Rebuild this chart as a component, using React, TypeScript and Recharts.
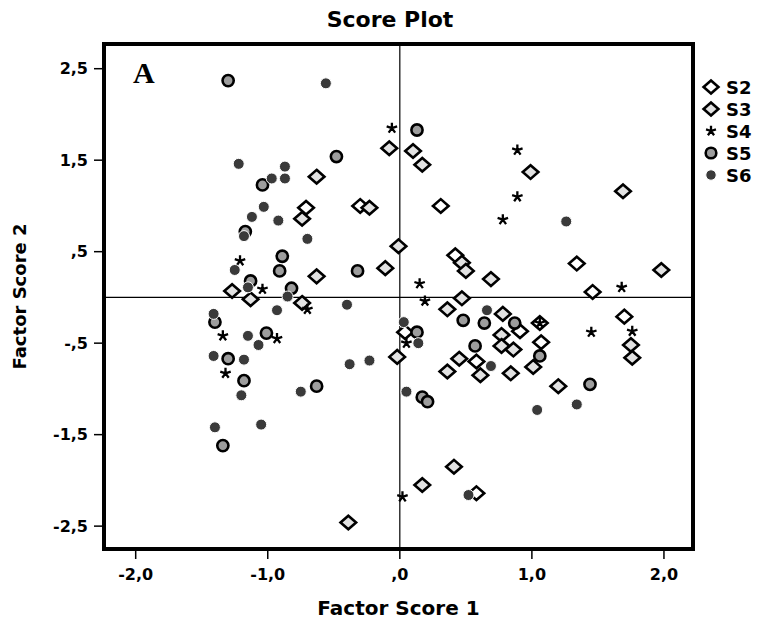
import { ReferenceArea, ReferenceLine, Scatter, ScatterChart, XAxis, YAxis } from "recharts";

const FONT = "'DejaVu Sans', Arial, sans-serif";

const X_DOMAIN = [-2.24, 2.22];
const Y_DOMAIN = [-2.75, 2.77];
const X_TICKS = [-2, -1, 0, 1, 2];
const Y_TICKS = [-2.5, -1.5, -0.5, 0.5, 1.5, 2.5];

const SERIES_NAMES = ["S2", "S3", "S4", "S5", "S6"];

const S2_X = [-0.71, -0.3, 0.31, 0.42, 1.34, 1.46, 0.91, 1.06, 1.07, 1.7, 0.58, 0.04, 0.58];
const S2_Y = [0.98, 1.0, 1.0, 0.46, 0.37, 0.06, -0.37, -0.28, -0.49, -0.21, -0.7, -0.38, -2.14];

const S3_X = [
  -0.08, -0.63, -0.74, -0.23, -0.01, -0.11, -0.63, -1.27, -1.13, -0.74, 0.1, 0.17,
  0.99, 1.69, 0.47, 0.5, 0.69, 1.98, 0.47, 0.36, 0.78, 0.77, 0.77, 0.86, 1.01, 0.45,
  0.36, 0.61, 0.84, -0.02, 1.2, 1.75, 1.76, 0.41, 0.17, -0.39,
];
const S3_Y = [
  1.63, 1.32, 0.86, 0.98, 0.56, 0.32, 0.23, 0.07, -0.02, -0.06, 1.6, 1.45, 1.37, 1.16,
  0.38, 0.29, 0.2, 0.3, -0.01, -0.13, -0.18, -0.41, -0.53, -0.57, -0.76, -0.67, -0.81,
  -0.85, -0.83, -0.65, -0.97, -0.52, -0.66, -1.85, -2.05, -2.46,
];

const S4_X = [-0.06, -1.21, -1.04, 0.89, 0.89, 0.78, 0.15, 1.68, -0.7, -1.34, -0.93, -1.32, 0.19, 0.05, 1.45, 1.76, 1.06, 0.02];
const S4_Y = [1.85, 0.4, 0.09, 1.61, 1.1, 0.85, 0.15, 0.11, -0.13, -0.42, -0.45, -0.83, -0.04, -0.5, -0.38, -0.37, -0.28, -2.18];

const S5_X = [
  -1.3, -0.48, -1.04, -1.17, -0.89, -0.91, -0.32, -1.13, -0.82, 0.13, -1.4, -1.01,
  -1.3, -1.18, -0.63, 0.48, 0.64, 0.13, 0.57, 0.87, 1.06, 0.17, 0.21, 1.44, -1.34,
];
const S5_Y = [
  2.37, 1.54, 1.23, 0.72, 0.45, 0.29, 0.29, 0.18, 0.1, 1.83, -0.27, -0.39, -0.67,
  -0.91, -0.97, -0.25, -0.28, -0.38, -0.53, -0.28, -0.64, -1.09, -1.14, -0.95, -1.62,
];

const S6_X = [
  -0.56, -1.22, -0.97, -0.87, -0.87, -1.03, -1.12, -0.92, -1.18, -0.7, -1.25, -1.15,
  1.26, -0.85, -0.93, -0.4, -1.41, -1.15, -1.07, -1.41, -1.18, -1.2, -0.75, -0.38,
  -0.23, -1.4, -1.05, 0.66, 0.03, 0.14, 0.69, 0.05, 1.04, 1.34, 0.52,
];
const S6_Y = [
  2.34, 1.46, 1.3, 1.43, 1.3, 0.99, 0.88, 0.84, 0.67, 0.64, 0.3, 0.11, 0.83, 0.01,
  -0.14, -0.08, -0.18, -0.42, -0.52, -0.64, -0.68, -1.07, -1.03, -0.73, -0.69, -1.42,
  -1.39, -0.14, -0.27, -0.5, -0.75, -1.03, -1.23, -1.17, -2.16,
];

function zip(xs: number[], ys: number[]) {
  return xs.map((x, i) => ({ x, y: ys[i] }));
}

// SPSS style labels: comma decimal, no leading zero
function fmt(v: number) {
  let s = Math.abs(v).toFixed(1).replace(".", ",");
  if (s.startsWith("0,")) s = s.slice(1);
  return v < 0 ? `-${s}` : s;
}

function diamondPath(cx: number, cy: number, hw: number, hh: number) {
  return `M${cx},${cy - hh}L${cx + hw},${cy}L${cx},${cy + hh}L${cx - hw},${cy}Z`;
}

function starPath(cx: number, cy: number, r: number) {
  return [-90, -18, 54, 126, 198]
    .map((a) => {
      const t = (a * Math.PI) / 180;
      return `M${cx},${cy}L${cx + r * Math.cos(t)},${cy + r * Math.sin(t)}`;
    })
    .join("");
}

function Marker({ name, cx, cy, scale = 1 }: { name: string; cx: number; cy: number; scale?: number }) {
  if (name === "S2" || name === "S3") {
    return (
      <path
        d={diamondPath(cx, cy, 7.8 * scale, 6.8 * scale)}
        fill={name === "S2" ? "#ffffff" : "#e2e2e2"}
        stroke="#000"
        strokeWidth={2.6}
      />
    );
  }
  if (name === "S4") {
    return <path d={starPath(cx, cy, 5.5 * scale)} stroke="#000" strokeWidth={2.3} fill="none" />;
  }
  if (name === "S5") {
    return <circle cx={cx} cy={cy} r={5.6 * scale} fill="#9d9d9d" stroke="#000" strokeWidth={2.6} />;
  }
  return <circle cx={cx} cy={cy} r={5.5 * scale} fill="#3a3a3a" stroke="#fff" strokeWidth={1} />;
}

const shapeFor = (name: string) => (props: any) => <Marker name={name} cx={props.cx} cy={props.cy} />;

const SERIES = [
  { name: "S2", data: zip(S2_X, S2_Y) },
  { name: "S3", data: zip(S3_X, S3_Y) },
  { name: "S4", data: zip(S4_X, S4_Y) },
  { name: "S5", data: zip(S5_X, S5_Y) },
  { name: "S6", data: zip(S6_X, S6_Y) },
];

const TICK = { fill: "#000", fontSize: 16, fontWeight: 700, fontFamily: FONT };
const FRAME = { stroke: "#000", strokeWidth: 4 };

export default function App() {
  return (
    <div style={{ position: "absolute", left: 0, top: 0, width: 768, height: 621, background: "#fff" }}>
      <div
        style={{
          position: "absolute",
          left: 290,
          top: 7,
          width: 200,
          textAlign: "center",
          fontFamily: FONT,
          fontWeight: 700,
          fontSize: 22,
        }}
      >
        Score Plot
      </div>

      <ScatterChart width={768} height={621} margin={{ top: 44, right: 75, bottom: 0, left: 14 }}>
        <XAxis
          dataKey="x"
          type="number"
          domain={X_DOMAIN}
          ticks={X_TICKS}
          interval={0}
          allowDataOverflow
          tickFormatter={fmt}
          tick={TICK}
          tickLine={{ stroke: "#000", strokeWidth: 1.5 }}
          tickSize={10}
          tickMargin={10}
          axisLine={FRAME}
          height={72}
          label={{
            value: "Factor Score 1",
            position: "insideBottom",
            offset: 6,
            fill: "#000",
            fontSize: 20,
            fontWeight: 700,
            fontFamily: FONT,
          }}
        />
        <YAxis
          dataKey="y"
          type="number"
          domain={Y_DOMAIN}
          ticks={Y_TICKS}
          interval={0}
          allowDataOverflow
          tickFormatter={fmt}
          tick={TICK}
          tickLine={{ stroke: "#000", strokeWidth: 1.5 }}
          tickSize={10}
          tickMargin={6}
          axisLine={FRAME}
          width={90}
          label={{
            value: "Factor Score 2",
            angle: -90,
            position: "insideLeft",
            offset: 6,
            fill: "#000",
            fontSize: 18,
            fontWeight: 700,
            fontFamily: FONT,
            style: { textAnchor: "middle" },
          }}
        />
        {/* plot frame */}
        <ReferenceArea
          x1={X_DOMAIN[0]}
          x2={X_DOMAIN[1]}
          y1={Y_DOMAIN[0]}
          y2={Y_DOMAIN[1]}
          ifOverflow="visible"
          fill="none"
          fillOpacity={0}
          stroke="#000"
          strokeWidth={4}
          strokeOpacity={1}
        />
        <ReferenceLine x={0} stroke="#000" strokeWidth={1.2} />
        <ReferenceLine y={0} stroke="#000" strokeWidth={1.2} />
        {SERIES.map((s) => (
          <Scatter key={s.name} name={s.name} data={s.data} shape={shapeFor(s.name)} isAnimationActive={false} />
        ))}
      </ScatterChart>

      <div
        style={{
          position: "absolute",
          left: 133,
          top: 58,
          fontFamily: "'Liberation Serif', 'Times New Roman', serif",
          fontWeight: 700,
          fontSize: 30,
          lineHeight: "30px",
        }}
      >
        A
      </div>

      <div style={{ position: "absolute", left: 701, top: 76 }}>
        {SERIES_NAMES.map((name) => (
          <div key={name} style={{ display: "flex", alignItems: "center", height: 22 }}>
            <svg width={20} height={22}>
              <Marker name={name} cx={10} cy={11} scale={0.95} />
            </svg>
            <span style={{ marginLeft: 5, fontFamily: FONT, fontWeight: 700, fontSize: 18 }}>{name}</span>
          </div>
        ))}
      </div>
    </div>
  );
}
